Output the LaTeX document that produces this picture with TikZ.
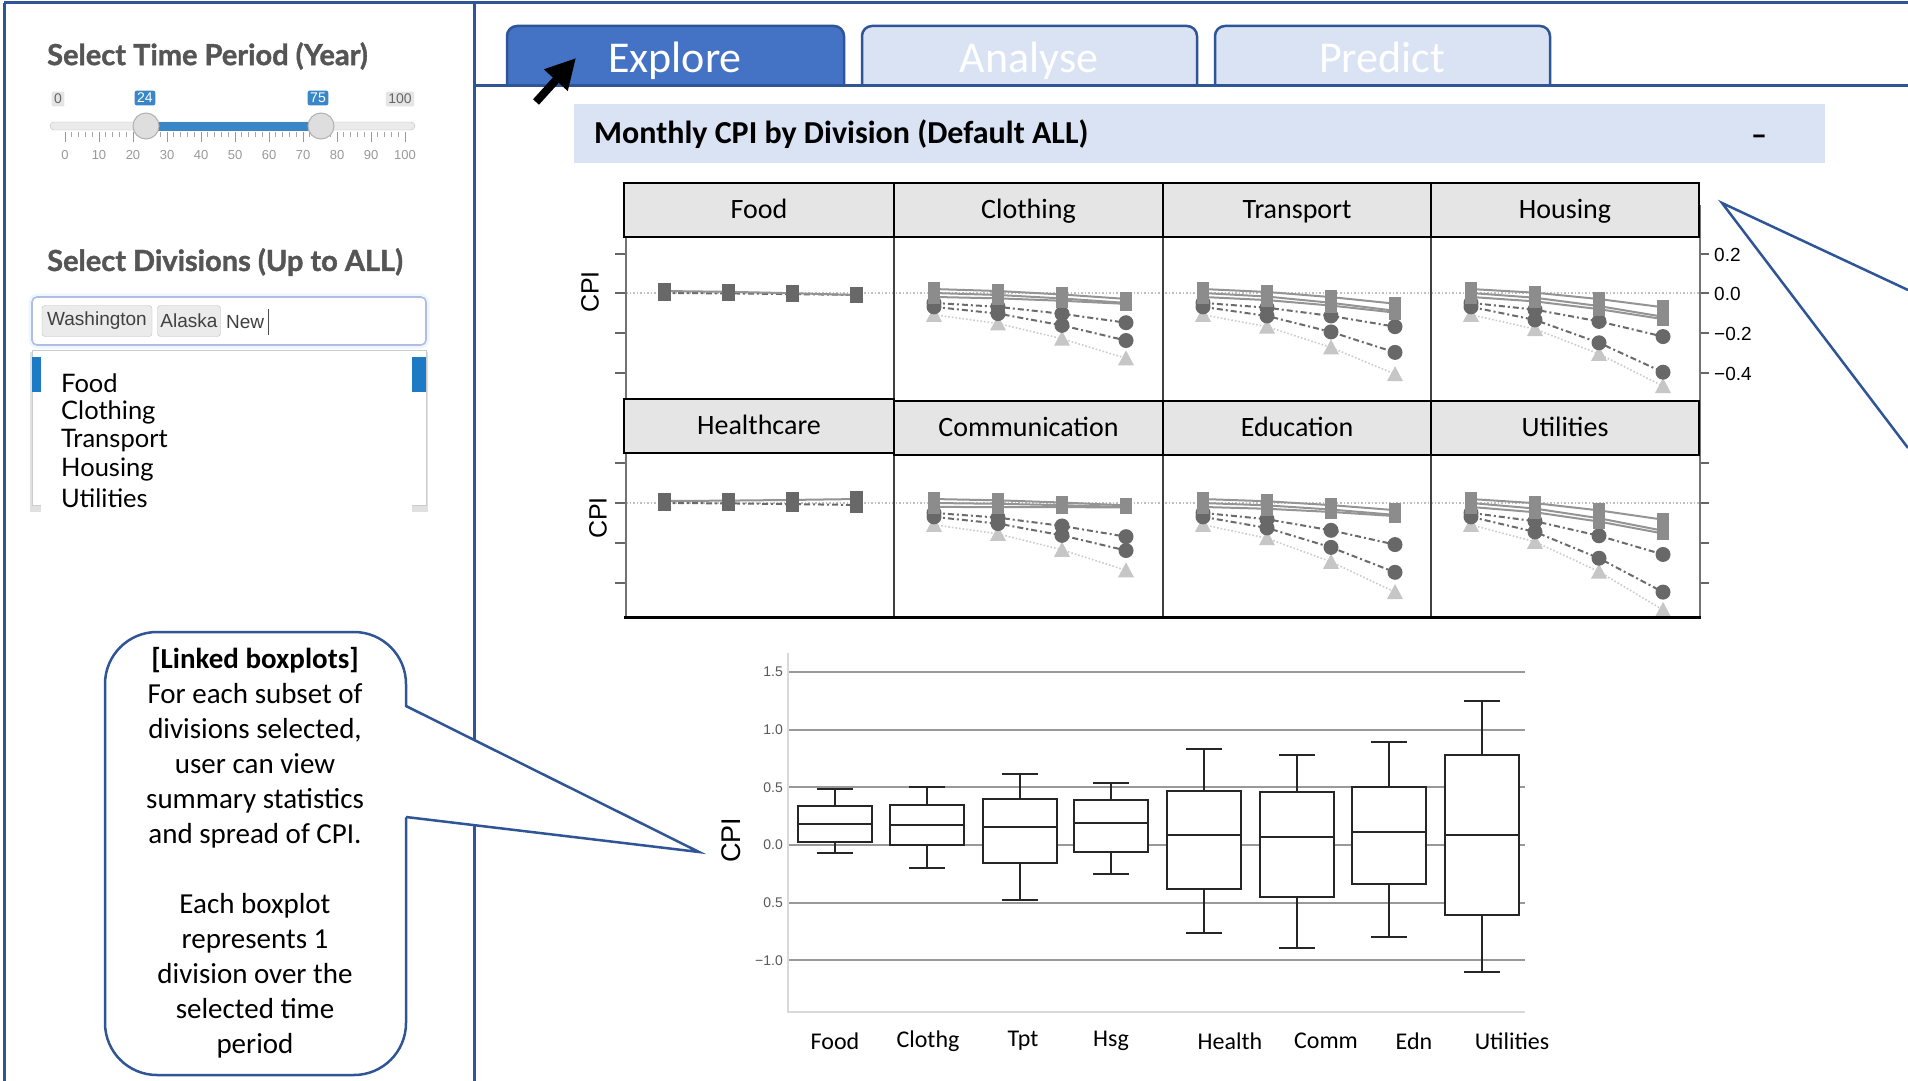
\documentclass[tikz,border=0pt]{standalone}
\usepackage{fontspec}
\setmainfont{Carlito}
\newfontfamily\latof{Lato}[BoldFeatures={FakeBold=1.3}]
\newfontfamily\arialf{Liberation Sans}
\usetikzlibrary{arrows.meta}
\definecolor{frameblue}{HTML}{2F5597}
\definecolor{tabblue}{HTML}{4472C4}
\definecolor{tablight}{HTML}{DAE3F3}
\definecolor{slblue}{HTML}{3A87C8}
\definecolor{listblue}{HTML}{1C7BC4}
\definecolor{headgray}{HTML}{555555}
\definecolor{sqcol}{HTML}{8C8C8C}
\definecolor{cicol}{HTML}{686868}
\definecolor{trcol}{HTML}{C6C6C6}
\newcommand{\fs}[1]{\fontsize{#1}{#1}\selectfont}

\newcommand{\mksq}[2]{\fill[sqcol] ({#1-6},{#2-7}) rectangle ({#1+6},{#2+7});}
\newcommand{\mksqd}[2]{\fill[cicol] ({#1-6.5},{#2-8}) rectangle ({#1+6.5},{#2+8});}
\newcommand{\mkci}[2]{\fill[cicol] (#1,#2) circle[radius=7.5pt];}
\newcommand{\mktr}[2]{\fill[trcol] ({#1},{#2-8}) -- ({#1+8},{#2+7}) -- ({#1-8},{#2+7}) -- cycle;}

\newcommand{\ser}[6]{%
 \pgfmathsetmacro\sva{#5}%
 \pgfmathsetmacro\svb{(#5)+0.2*((#6)-(#5))}%
 \pgfmathsetmacro\svc{(#5)+0.55*((#6)-(#5))}%
 \pgfmathsetmacro\svd{#6}%
 \draw[#1] ({#3+40},{#4-198*(\sva)}) -- ({#3+104},{#4-198*(\svb)}) -- ({#3+168},{#4-198*(\svc)}) -- ({#3+232},{#4-198*(\svd)});
 \foreach \xo/\vv in {40/\sva,104/\svb,168/\svc,232/\svd}{%
   \pgfmathsetmacro\mpx{#3+\xo}\pgfmathsetmacro\mpy{#4-198*(\vv)}#2{\mpx}{\mpy}}%
}
\newcommand{\cpipanel}[6]{%
 \ser{trline}{\mktr}{#1}{#2}{-0.11}{#6}
 \ser{ciline}{\mkci}{#1}{#2}{-0.07}{#5}
 \ser{ciline}{\mkci}{#1}{#2}{-0.05}{#4}
 \ser{sqline}{\mksq}{#1}{#2}{0.02}{(#3)*0.6}
 \ser{sqline}{\mksq}{#1}{#2}{0}{#3}
 \ser{sqline}{\mksq}{#1}{#2}{-0.02}{(#3)*1.1}
}
\newcommand{\flatpanel}[3]{%
 \ser{ciline}{\mksqd}{#1}{#2}{0}{-0.01}
 \ser{sqline}{\mksqd}{#1}{#2}{0.01}{#3}
}
\newcommand{\bx}[6]{%
 \pgfmathsetmacro\ylo{845-115.2*(#2)}%
 \pgfmathsetmacro\yqa{845-115.2*(#3)}%
 \pgfmathsetmacro\ymd{845-115.2*(#4)}%
 \pgfmathsetmacro\yqc{845-115.2*(#5)}%
 \pgfmathsetmacro\yhi{845-115.2*(#6)}%
 \draw[bxl] (#1,\yhi) -- (#1,\yqc) (#1,\yqa) -- (#1,\ylo);
 \draw[bxl] ({#1-18},\yhi) -- ({#1+18},\yhi) ({#1-18},\ylo) -- ({#1+18},\ylo);
 \draw[bxl,fill=white] ({#1-37},\yqa) rectangle ({#1+37},\yqc);
 \draw[bxl] ({#1-37},\ymd) -- ({#1+37},\ymd);
}

\begin{document}
\begin{tikzpicture}[x=1pt,y=-1pt,
  fr/.style={draw=frameblue,line width=3},
  tabb/.style={draw=frameblue,line width=2.5},
  tabtxt/.style={font=\fs{44},text=white,anchor=base,inner sep=0},
  headf/.style={font=\latof\bfseries\fs{29},text=headgray,anchor=west,inner sep=0},
  listf/.style={font=\latof\fs{25.5},anchor=west,inner sep=0},
  tagf/.style={font=\arialf\fs{19},text=black!75,inner sep=0},
  sllab/.style={font=\arialf\fs{14},inner sep=2.5pt,rounded corners=2},
  sltick/.style={font=\arialf\fs{13},text=black!40,inner sep=0},
  hdr/.style={draw=black,line width=2,fill=black!10,font=\fs{28},minimum height=54,inner sep=0,text height=22pt,text depth=6pt},
  tickr/.style={font=\arialf\fs{19},anchor=west,inner sep=0},
  cpif/.style={font=\arialf\fs{25},rotate=90,inner sep=0},
  sqline/.style={draw=black!42,line width=2},
  ciline/.style={draw=black!58,line width=2,dash pattern=on 6pt off 3pt on 2pt off 3pt},
  trline/.style={draw=black!20,line width=1.6,dotted},
  bxl/.style={draw=black!85,line width=2},
  grd/.style={draw=black!40,line width=2},
  bxlab/.style={font=\fs{24},inner sep=0},
  ytl/.style={font=\arialf\fs{14},text=black!65,anchor=east,inner sep=0},
  call/.style={draw=frameblue,line width=2.5}]

\useasboundingbox (0,0) rectangle (1908,1081);
\fill[white] (0,0) rectangle (1908,1081);

% ---------- tabs
\draw[tabb,fill=tabblue,rounded corners=10] (507,86) -- (507,26) -- (844,26) -- (844,86);
\draw[tabb,fill=tablight,rounded corners=10] (862,86) -- (862,26) -- (1197,26) -- (1197,86);
\draw[tabb,fill=tablight,rounded corners=10] (1215,86) -- (1215,26) -- (1550,26) -- (1550,86);
\node[tabtxt] (texplore) at (675,73) {Explore};
\node[tabtxt] (tanalyse) at (1029,73) {Analyse};
\node[tabtxt] (tpredict) at (1382,73) {Predict};

% ---------- frame
\draw[fr] (4,3) -- (1908,3);
\draw[fr] (4,3) -- (4,1081);
\draw[fr] (474,3) -- (474,1081);
\draw[fr] (474,85) -- (1908,85);

% ---------- cursor
\coordinate (curtail) at (536,102);
\coordinate (curtip) at (576,58);
\draw[line width=8,-{Triangle[length=30pt,width=30pt]}] (curtail) -- (curtip);

% ---------- header bar
\fill[tablight] (574,104) rectangle (1825,163);
\node[anchor=west,font=\bfseries\fs{32},inner sep=0] (mtitle) at (594,134) {Monthly CPI by Division (Default ALL)};
\node[font=\bfseries\fs{32},inner sep=0] (collapse) at (1759,140) {–};

% ---------- left panel: slider
\node[headf] (h1) at (47,56) {Select Time Period (Year)};
\draw[fill=black!8,draw=black!25,rounded corners=4] (50,122) rectangle (415,130);
\fill[slblue] (146,122) rectangle (322,130.5);
\foreach \v in {0,2,...,100} {\draw[black!35,line width=0.8] ({65+3.4*\v},132) -- ({65+3.4*\v},137);}
\foreach \v in {0,10,...,100} {\draw[black!40,line width=1] ({65+3.4*\v},132) -- ({65+3.4*\v},142);
  \node[sltick] (tk\v) at ({65+3.4*\v},155) {\v};}
\draw[fill=black!13,draw=black!30,line width=1] (146,126) circle[radius=13pt];
\draw[fill=black!13,draw=black!30,line width=1] (321,126) circle[radius=13pt];
\node[sllab,fill=black!10,text=black!60] (smin) at (58,99) {0};
\node[sllab,fill=slblue,text=white] (slo) at (145,98) {24};
\node[sllab,fill=slblue,text=white] (shi) at (318,98) {75};
\node[sllab,fill=black!10,text=black!60] (smax) at (400,99) {100};

% ---------- left panel: divisions
\node[headf] (h2) at (47,262) {Select Divisions (Up to ALL)};
\draw[draw=cyan!8,line width=7,rounded corners=6] (32,297) rectangle (426,345);
\draw[draw=cyan!35!blue!30,line width=1.6,fill=white,rounded corners=5] (32,297) rectangle (426,345);
\node[tagf,fill=black!8,draw=black!25,rounded corners=3,minimum width=110,minimum height=31] (twash) at (97,321) {Washington};
\node[tagf,fill=black!8,draw=black!25,rounded corners=3,minimum width=63,minimum height=31] (talaska) at (189,321) {Alaska};
\node[tagf,anchor=west] (tnew) at (226,322) {New};
\draw[black!70,line width=1] (268,309) -- (268,335);

\fill[black!12] (30,352) rectangle (428,512);
\draw[fill=white,draw=black!20] (32,350) rectangle (426,505);
\fill[listblue] (32,357) rectangle (426,392);
\fill[white] (41,357) rectangle (412,522);
\node[listf] (lfood) at (61,383) {Food};
\node[listf] (lcloth) at (61,412) {Clothing};
\node[listf] (ltrans) at (61,441) {Transport};
\node[listf] (lhous) at (61,470) {Housing};
\node[listf] (lutil) at (61,498) {Utilities};

% ---------- facet panel
\draw[black!25,line width=1.5,dotted] (626,293) -- (1699,293);
\draw[black!25,line width=1.5,dotted] (626,503) -- (1699,503);
\draw[black!75,line width=1.3] (894,237) -- (894,617) (1163,237) -- (1163,617) (1431,237) -- (1431,617);
\foreach \yy in {254,293,333,373,463,503,543,583} {\draw[black!60,line width=2] (615,\yy) -- (626,\yy);}
\foreach \yy in {254,293,333,373,463,503,543,583} {\draw[black!60,line width=2] (1700,\yy) -- (1709,\yy);}
\draw[black!55,line width=2.5] (626,237) -- (626,617);
\draw[black!55,line width=2.5] (1700,205) -- (1700,617);

\flatpanel{624}{293}{-0.01}
\cpipanel{894}{293}{-0.05}{-0.15}{-0.24}{-0.33}
\cpipanel{1163}{293}{-0.09}{-0.17}{-0.30}{-0.41}
\cpipanel{1431}{293}{-0.12}{-0.22}{-0.40}{-0.47}
\flatpanel{624}{503}{0.02}
\cpipanel{894}{503}{-0.02}{-0.17}{-0.24}{-0.34}
\cpipanel{1163}{503}{-0.06}{-0.21}{-0.35}{-0.45}
\cpipanel{1431}{503}{-0.14}{-0.26}{-0.45}{-0.54}

\node[hdr,minimum width=270] (hfood) at (759,210) {Food};
\node[hdr,minimum width=269] (hcloth) at (1028.5,210) {Clothing};
\node[hdr,minimum width=268] (htrans) at (1297,210) {Transport};
\node[hdr,minimum width=268] (hhous) at (1565,210) {Housing};
\node[hdr,minimum width=270] (hhealth) at (759,426) {Healthcare};
\node[hdr,minimum width=269] (hcomm) at (1028.5,428) {Communication};
\node[hdr,minimum width=268] (hedu) at (1297,428) {Education};
\node[hdr,minimum width=268] (hutil) at (1565,428) {Utilities};
\draw[black,line width=3] (624,617) -- (1701,617);

\node[tickr] (r02) at (1714,255) {0.2};
\node[tickr] (r00) at (1714,294) {0.0};
\node[tickr] (rm02) at (1714,334) {−0.2};
\node[tickr] (rm04) at (1714,374) {−0.4};
\node[cpif] (cpi1) at (590,292) {CPI};
\node[cpif] (cpi2) at (598,518) {CPI};

% ---------- boxplots
\foreach \v/\lab in {1.5/1.5,1/1.0,0.5/0.5,0/0.0,-0.5/0.5,-1/−1.0} {
  \draw[grd] (788,{845-115.2*\v}) -- (1525,{845-115.2*\v});
  \node[ytl] at (783,{845-115.2*\v}) {\lab};}
\draw[black!15,line width=2] (788,653) -- (788,1012) -- (1525,1012);
\bx{834.5}{-0.07}{0.03}{0.18}{0.34}{0.49}
\bx{927}{-0.2}{0.0}{0.17}{0.35}{0.50}
\bx{1020}{-0.48}{-0.16}{0.16}{0.40}{0.62}
\bx{1111}{-0.25}{-0.06}{0.19}{0.39}{0.54}
\bx{1204}{-0.76}{-0.38}{0.09}{0.47}{0.83}
\bx{1297}{-0.89}{-0.45}{0.07}{0.46}{0.78}
\bx{1389}{-0.80}{-0.34}{0.11}{0.50}{0.89}
\bx{1482}{-1.10}{-0.61}{0.09}{0.78}{1.25}
\node[cpif,font=\arialf\fs{27}] (bcpi) at (731,840) {CPI};
\node[bxlab] (xfood) at (835,1041) {Food};
\node[bxlab] (xcloth) at (928,1041) {Clothg};
\node[bxlab] (xtpt) at (1023,1041) {Tpt};
\node[bxlab] (xhsg) at (1111,1041) {Hsg};
\node[bxlab] (xhealth) at (1230,1041) {Health};
\node[bxlab] (xcomm) at (1326,1041) {Comm};
\node[bxlab] (xedn) at (1414,1041) {Edn};
\node[bxlab] (xutil) at (1512,1041) {Utilities};

% ---------- callouts
\draw[call,fill=white,rounded corners=52] (105,632) rectangle (406,1075);
\coordinate (cpa) at (406,706);
\coordinate (cptip) at (699,852);
\coordinate (cpb) at (406,817);
\fill[white] (403,706) -- (cptip) -- (403,817) -- cycle;
\draw[call] (cpa) -- (cptip) -- (cpb);
\node[align=center,font=\fontsize{29}{35}\selectfont,inner sep=0] (callouttext) at (255,853)
 {\textbf{[Linked boxplots]}\\For each subset of\\divisions selected,\\user can view\\summary statistics\\and spread of CPI.\\[35pt]Each boxplot\\represents 1\\division over the\\selected time\\period};

\coordinate (tip2) at (1722,203);
\coordinate (e2a) at (1908,290);
\coordinate (e2b) at (1908,448);
\draw[call] (e2a) -- (tip2) -- (e2b);
\end{tikzpicture}
\end{document}
